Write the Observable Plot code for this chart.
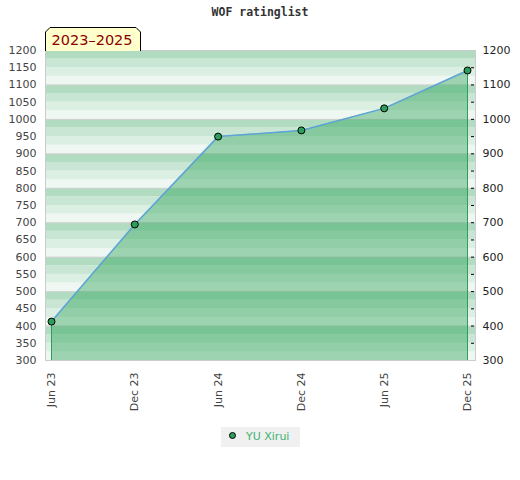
<!DOCTYPE html>
<html>
<head>
<meta charset="utf-8">
<script src="https://cdn.jsdelivr.net/npm/d3@7"></script>
<script src="https://cdn.jsdelivr.net/npm/@observablehq/plot@0.6"></script>
<style>
  body { margin: 0; background: white; }
  #wrap { position: relative; width: 520px; height: 480px; overflow: hidden; }
  #title { position: absolute; left: 0; top: 5px; width: 520px; text-align: center;
           font: bold 11.5px "DejaVu Sans Mono", monospace; color: #333; }
  #tab { position: absolute; left: 45px; top: 27px; }
  #legend { position: absolute; left: 221px; top: 427px; width: 79px; height: 20px;
            background: #f0f0f0; font: 11px "DejaVu Sans", sans-serif; color: #3cb371; }
  #legend svg { position: absolute; left: 0; top: 0; }
  #legend span { position: absolute; left: 25px; top: 3px; }
</style>
</head>
<body>
<div id="wrap">
  <div id="chart"></div>
  <div id="title">WOF ratinglist</div>
  <svg id="tab" width="97" height="24">
    <path d="M0.5,24 V5 L5,0.5 H91 L95.5,5 V24" fill="#ffffcc" stroke="black"></path>
    <text x="6.5" y="18" font-family="DejaVu Sans" font-size="14.5" fill="#8b0000">2023–2025</text>
  </svg>
  <div id="legend">
    <svg width="20" height="20"><circle cx="11.5" cy="8.5" r="3" fill="#2e9e5b" stroke="black" stroke-width="1"></circle></svg>
    <span>YU Xirui</span>
  </div>
</div>
<script>
const dates = ["2023-06-01", "2023-12-01", "2024-06-01", "2024-12-01", "2025-06-01", "2025-12-01"];
const dateLabels = ["Jun 23", "Dec 23", "Jun 24", "Dec 24", "Jun 25", "Dec 25"];
const ratings = [413, 695, 950, 968, 1032, 1142];
const player = "YU Xirui";
const leftTicks = [300, 350, 400, 450, 500, 550, 600, 650, 700, 750, 800, 850, 900, 950, 1000, 1050, 1100, 1150, 1200];
const rightTicks = [300, 400, 500, 600, 700, 800, 900, 1000, 1100, 1200];
const gridLines = [400, 500, 600, 700, 800, 900, 1000, 1100];
const stripeColors = ["#eff7f2", "#dcefe3", "#c8e6d3", "#b2dcc2"]; // bottom to top in each 100 block

const parsed = dates.map(d => new Date(d + "T00:00:00Z"));
const data = parsed.map((d, i) => ({date: d, rating: ratings[i], label: dateLabels[i], name: player}));
const yMin = 300, yMax = 1200;
const stripes = d3.range(yMin, yMax, 25).map(v => ({y1: v, y2: v + 25, c: stripeColors[((v - yMin) % 100) / 25]}));
const edges = [data[0], data[data.length - 1]];
const labelOf = new Map(parsed.map((d, i) => [+d, dateLabels[i]]));
const plain = d3.format("d");

const chart = Plot.plot({
  width: 520,
  height: 480,
  marginTop: 50,
  marginBottom: 120,
  marginLeft: 45,
  marginRight: 45,
  style: {fontFamily: "DejaVu Sans", fontSize: "11px", background: "white", color: "#444"},
  x: {type: "utc", domain: [parsed[0], parsed[parsed.length - 1]], range: [51, 467]},
  y: {domain: [yMin, yMax]},
  marks: [
    Plot.rectY(stripes, {y1: "y1", y2: "y2", fill: "c"}),
    Plot.ruleY(gridLines, {stroke: "#d2d2d2", strokeWidth: 1}),
    Plot.frame({stroke: "#cccccc"}),
    Plot.areaY(data, {x: "date", y1: yMin, y2: "rating", fill: "rgb(44,161,85)", fillOpacity: 0.42}),
    Plot.ruleX(edges, {x: "date", y1: yMin, y2: "rating", stroke: "#2e9e5b", strokeWidth: 1}),
    Plot.line(data, {x: "date", y: "rating", stroke: "#5ea3d9", strokeWidth: 1.5}),
    Plot.dot(data, {x: "date", y: "rating", r: 3.5, fill: "#2e9e5b", stroke: "black", strokeWidth: 1}),
    Plot.axisY({anchor: "left", ticks: leftTicks, tickFormat: plain, tickSize: 0, tickPadding: 9, fill: "#444", label: null}),
    Plot.axisY({anchor: "right", ticks: leftTicks.slice(1, -1), tickSize: 3, tickFormat: () => "", dx: -5, stroke: "black", label: null}),
    Plot.axisY({anchor: "right", ticks: rightTicks, tickFormat: plain, tickSize: 0, tickPadding: 7, fill: "#222", label: null}),
    Plot.axisX({ticks: parsed, tickFormat: d => labelOf.get(+d), tickRotate: -90, tickSize: 0, tickPadding: 12, fill: "#444", label: null})
  ]
});
document.getElementById("chart").appendChild(chart);
</script>
</body>
</html>
